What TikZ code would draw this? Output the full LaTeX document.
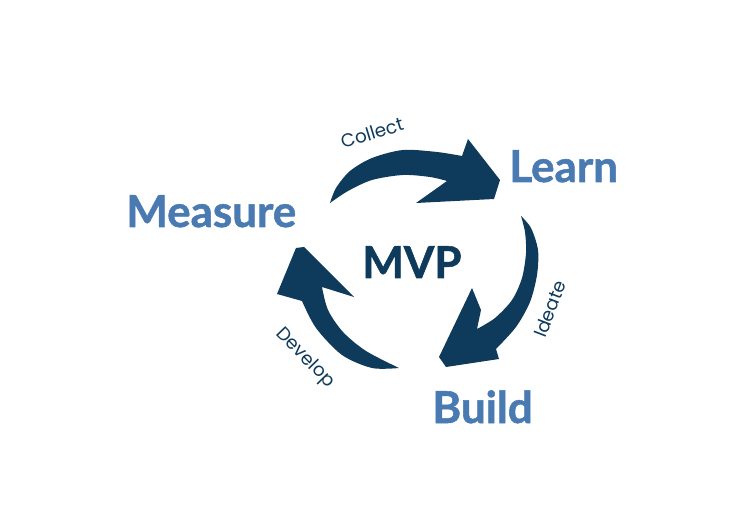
\documentclass[tikz,border=0pt]{standalone}
\usepackage{fontspec}
\setsansfont{Lato}[BoldFeatures={FakeBold=1.2}]
\newfontfamily\stepfont{Poppins}
\usepackage{tikz}
\usetikzlibrary{positioning}
\definecolor{navy}{HTML}{0E3A5C}
\definecolor{steel}{HTML}{4A7AB2}

\begin{document}
\begin{tikzpicture}[
    x=0.02cm, y=-0.02cm,
    every node/.style={inner sep=0pt},
    phase/.style={font=\sffamily\bfseries\fontsize{25}{29}\selectfont, text=steel, anchor=base west},
    core/.style={font=\sffamily\bfseries\fontsize{25}{29}\selectfont, text=navy, anchor=base west},
    steplabel/.style={font=\stepfont\fontsize{10.5}{12}\selectfont, text=navy},
    loop/.style={fill=navy}
]
    \useasboundingbox (0,0) rectangle (750,509);

    % Phase names and centre
    \node[phase] (measure) at (126,227) {Measure};
    \node[phase] (learn)   at (509,182) {Learn};
    \node[phase] (build)   at (432,423) {Build};
    \node[core]  (mvp)     at (362,278) {MVP};

    % Collect: Measure -> Learn
    \fill[loop] plot[smooth] coordinates {(330,203) (336,188) (350,171) (372,158) (403,150) (437,152) (462,156)}
        -- (468,139) -- (500,180) -- (494,199) -- (416,203) -- (447,181)
        -- plot[smooth] coordinates {(447,181) (430,177) (403,175) (372,180) (348,191) (330,203)} -- cycle;

    % Ideate: Learn -> Build
    \fill[loop] plot[smooth] coordinates {(521,216) (531,228) (538,250) (537,275) (530,302) (516,327) (496,349)}
        -- (499,359) -- (446,367) -- (439,357) -- (472,288) -- (481,310) -- (477,329)
        -- plot[smooth] coordinates {(477,329) (495,318) (512,300) (522,278) (526,253) (525,232) (521,216)} -- cycle;

    % Develop: Build -> Measure
    \fill[loop] plot[smooth] coordinates {(399,368) (372,368) (342,355) (316,328) (302,301)}
        -- (277,294) -- (296,248) -- (304,247) -- (354,297) -- (322,287)
        -- plot[smooth] coordinates {(322,287) (328,310) (343,332) (366,351) (399,368)} -- cycle;

    % Step labels
    \node[steplabel, rotate=17]  (collect) at (372,133) {Collect};
    \node[steplabel, rotate=69]  (ideate)  at (550,309) {Ideate};
    \node[steplabel, rotate=-46] (develop) at (305,358) {Develop};
\end{tikzpicture}
\end{document}
